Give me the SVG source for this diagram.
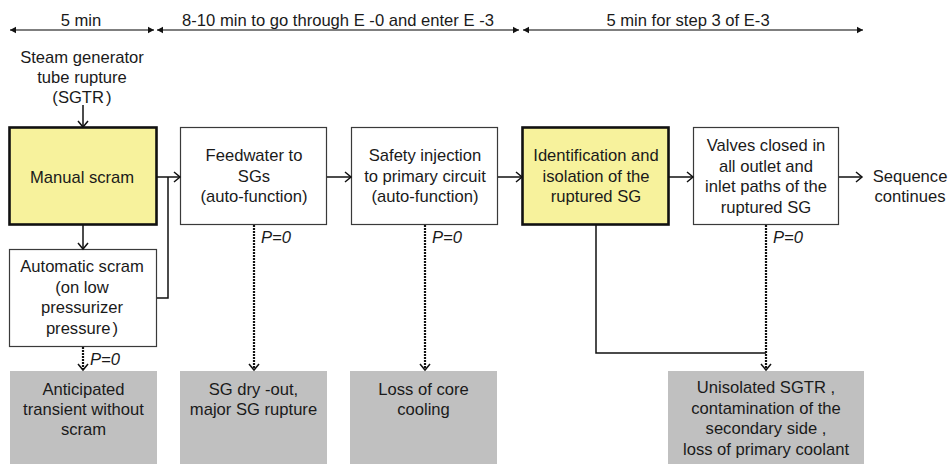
<svg xmlns="http://www.w3.org/2000/svg" width="949" height="464" viewBox="0 0 949 464">
<defs>
<style>
text{font-family:"Liberation Sans",Arial,sans-serif;font-size:16.6px;fill:#1a1a1a;text-anchor:middle}
.it{font-style:italic;text-anchor:start}
.ns{word-spacing:-2.5px}
.box{fill:#fff;stroke:#3a3a3a;stroke-width:1.2}
.key{fill:#f7f29c;stroke:#111;stroke-width:2.6}
.out{fill:#c0c0c0;stroke:none}
.ln{fill:none;stroke:#111;stroke-width:1.5}
.dot{fill:none;stroke:#111;stroke-width:2.2;stroke-dasharray:2 1}
.tl{fill:none;stroke:#555;stroke-width:1.3}
</style>
<marker id="ah" markerUnits="userSpaceOnUse" markerWidth="12" markerHeight="12" viewBox="0 0 12 12" refX="10" refY="6" orient="auto">
<path d="M4,1 L10,6 L4,11" fill="none" stroke="#111" stroke-width="1.5"/>
</marker>
<marker id="tri" markerUnits="userSpaceOnUse" markerWidth="8" markerHeight="8" viewBox="0 0 8 8" refX="7" refY="4" orient="auto-start-reverse">
<path d="M1,0.8 L7,4 L1,7.2 Z" fill="#111"/>
</marker>
</defs>

<g id="timeline">
<line class="tl" x1="10" y1="30" x2="154" y2="30" marker-start="url(#tri)" marker-end="url(#tri)"/>
<line class="tl" x1="157" y1="30" x2="519" y2="30" marker-start="url(#tri)" marker-end="url(#tri)"/>
<line class="tl" x1="523" y1="30" x2="863" y2="30" marker-start="url(#tri)" marker-end="url(#tri)"/>
<text x="81" y="25.5">5 min</text>
<text x="338" y="25.5">8-10 min to go through E -0 and enter E -3</text>
<text x="688" y="25.5">5 min for step 3 of E-3</text>
</g>

<g id="sgtr">
<text x="82" y="63">Steam generator</text>
<text x="82" y="83">tube rupture</text>
<text class="ns" x="82" y="103">(SGTR )</text>
</g>

<g id="manual-scram">
<rect class="key" x="9.5" y="127.5" width="147" height="97"/>
<text x="82" y="183">Manual scram</text>
</g>

<g id="automatic-scram">
<rect class="box" x="9.5" y="249.5" width="147" height="97"/>
<text x="82" y="272">Automatic scram</text>
<text x="82" y="292.5">(on low</text>
<text x="82" y="313">pressurizer</text>
<text class="ns" x="82" y="333.5">pressure )</text>
</g>

<g id="feedwater">
<rect class="box" x="180.5" y="127.5" width="146" height="97"/>
<text x="254" y="161">Feedwater to</text>
<text x="254" y="181.5">SGs</text>
<text x="254" y="202">(auto-function)</text>
</g>

<g id="safety-injection">
<rect class="box" x="351.5" y="127.5" width="146" height="97"/>
<text x="425" y="161">Safety injection</text>
<text x="425" y="181.5">to primary circuit</text>
<text x="425" y="202">(auto-function)</text>
</g>

<g id="identification">
<rect class="key" x="522.5" y="127.5" width="146" height="97"/>
<text x="596" y="161">Identification and</text>
<text x="596" y="181.5">isolation of the</text>
<text x="596" y="202">ruptured SG</text>
</g>

<g id="valves">
<rect class="box" x="693.5" y="127.5" width="145" height="97"/>
<text x="766" y="151">Valves closed in</text>
<text x="766" y="171.5">all outlet and</text>
<text x="766" y="192">inlet paths of the</text>
<text x="766" y="212.5">ruptured SG</text>
</g>

<g id="sequence-continues">
<text x="910" y="182">Sequence</text>
<text x="910" y="202">continues</text>
</g>

<g id="atws">
<rect class="out" x="10" y="371" width="147" height="93"/>
<text x="83.5" y="395">Anticipated</text>
<text x="83.5" y="415">transient without</text>
<text x="83.5" y="435">scram</text>
</g>

<g id="sg-dryout">
<rect class="out" x="180" y="371" width="147" height="93"/>
<text x="253.5" y="395">SG dry -out,</text>
<text x="253.5" y="415">major SG rupture</text>
</g>

<g id="loss-core-cooling">
<rect class="out" x="350" y="371" width="147" height="93"/>
<text x="423.5" y="395">Loss of core</text>
<text x="423.5" y="415">cooling</text>
</g>

<g id="unisolated-sgtr">
<rect class="out" x="668" y="371" width="196" height="93"/>
<text x="766" y="393">Unisolated SGTR ,</text>
<text x="766" y="413.5">contamination of the</text>
<text x="766" y="434">secondary side ,</text>
<text x="766" y="455">loss of primary coolant</text>
</g>

<g id="connectors">
<line class="ln" x1="83" y1="105" x2="83" y2="127" marker-end="url(#ah)"/>
<line class="ln" x1="83" y1="225" x2="83" y2="249" marker-end="url(#ah)"/>
<line class="ln" x1="157" y1="177" x2="180" y2="177" marker-end="url(#ah)"/>
<polyline class="ln" points="157,298 168,298 168,177"/>
<line class="ln" x1="327" y1="177" x2="351" y2="177" marker-end="url(#ah)"/>
<line class="ln" x1="498" y1="177" x2="522" y2="177" marker-end="url(#ah)"/>
<line class="ln" x1="669" y1="177" x2="693" y2="177" marker-end="url(#ah)"/>
<line class="ln" x1="839" y1="177" x2="862" y2="177" marker-end="url(#ah)"/>
<polyline class="ln" points="596,225 596,353 766,353"/>
<line class="dot" x1="83" y1="347" x2="83" y2="370" marker-end="url(#ah)"/>
<line class="dot" x1="254" y1="225" x2="254" y2="370" marker-end="url(#ah)"/>
<line class="dot" x1="425" y1="225" x2="425" y2="370" marker-end="url(#ah)"/>
<line class="dot" x1="766" y1="225" x2="766" y2="370" marker-end="url(#ah)"/>
<text class="it" x="90" y="365">P=0</text>
<text class="it" x="261" y="243">P=0</text>
<text class="it" x="432" y="243">P=0</text>
<text class="it" x="773" y="243">P=0</text>
</g>
</svg>
